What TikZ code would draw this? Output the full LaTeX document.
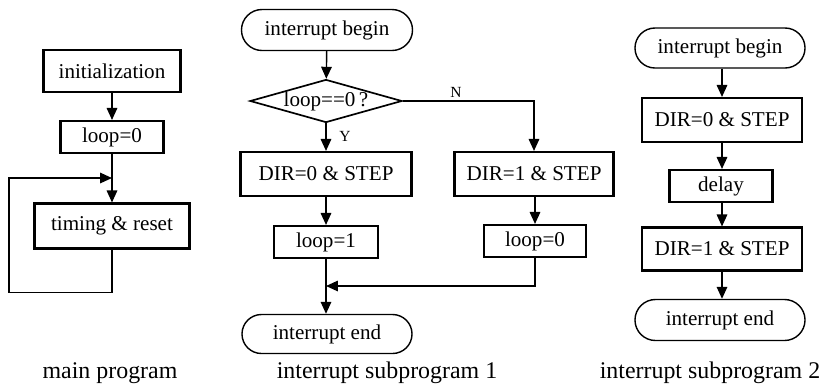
\documentclass[tikz,border=0pt]{standalone}
\usepackage{fontspec}
\setmainfont{Liberation Serif}
\usetikzlibrary{arrows.meta,shapes.geometric,shapes.misc}
\tikzset{
	box/.style={draw, line width=1.5pt, rectangle, inner sep=0pt},
	term/.style={draw, line width=1pt, rounded rectangle, inner sep=0pt},
	decide/.style={draw, line width=1.2pt, diamond, inner sep=0pt},
	arr/.style={line width=1pt, -{Triangle[length=8.5pt,width=7.5pt]}},
	branch/.style={font=\fontsize{11}{13}\selectfont, inner sep=0pt},
	caption/.style={font=\fontsize{17}{20}\selectfont, anchor=base}
}

\begin{document}
\begin{tikzpicture}[x=0.025cm, y=-0.025cm, font=\fontsize{15}{18}\selectfont]
		%%%%% START %%%%%
		\useasboundingbox (0, 0) rectangle (821, 384);
		
		% main program
		\node[box, minimum width=3.425cm, minimum height=1.05cm] (init) at (112, 71) {initialization};
		\node[box, minimum width=2.575cm, minimum height=0.8cm] (loopA) at (112, 137) {loop=0};
		\node[box, minimum width=3.875cm, minimum height=1.125cm] (timing) at (112, 226) {timing \& reset};
		\coordinate (back) at (112, 178);
		
		\draw[arr] (init) -- (loopA);
		\draw[arr] (loopA) -- (timing);
		\draw[arr] (timing.south) -- ++(0, 43) -| (9, 178) -- (back);
		
		\node[caption] (capA) at (110, 378) {main program};
		
		% interrupt subprogram 1
		\node[term, minimum width=4.275cm, minimum height=1.025cm] (beginB) at (327, 30) {interrupt begin};
		\node[decide, minimum width=3.8cm, minimum height=1.075cm] (test) at (326, 101) {\makebox[0pt]{loop==0\,?}};
		\node[box, minimum width=4.275cm, minimum height=1.1cm] (dirB0) at (326, 174) {DIR=0 \& STEP};
		\node[box, minimum width=3.975cm, minimum height=1.1cm] (dirB1) at (534, 174) {DIR=1 \& STEP};
		\node[box, minimum width=2.6cm, minimum height=0.8cm] (loopB1) at (326, 242) {loop=1};
		\node[box, minimum width=2.55cm, minimum height=0.8cm] (loopB0) at (535, 241) {loop=0};
		\node[term, minimum width=4.25cm, minimum height=0.975cm] (endB) at (327, 334) {interrupt end};
		\coordinate (merge) at (326, 286);
		\node[branch] (yes) at (345, 136) {Y};
		\node[branch] (no) at (456, 92) {N};
		
		\draw[arr] (beginB) -- (test);
		\draw[arr] (test.south) -- (dirB0.north);
		\draw[arr] (test.east) -| (dirB1.north);
		\draw[arr] (dirB0) -- (loopB1);
		\draw[arr] (dirB1.south -| loopB0) -- (loopB0);
		\draw[arr] (loopB1) -- (endB.north -| loopB1);
		\draw[arr] (loopB0.south) |- (merge);
		
		\node[caption] (capB) at (387, 378) {interrupt subprogram 1};
		
		% interrupt subprogram 2
		\node[term, minimum width=4.25cm, minimum height=1cm] (beginC) at (720, 48) {interrupt begin};
		\node[box, minimum width=4cm, minimum height=1.1cm] (dirC0) at (722, 120) {DIR=0 \& STEP};
		\node[box, minimum width=2.575cm, minimum height=0.8cm] (delay) at (721, 186) {delay};
		\node[box, minimum width=4cm, minimum height=1.075cm] (dirC1) at (722, 249) {DIR=1 \& STEP};
		\node[term, minimum width=4.25cm, minimum height=1.025cm] (endC) at (720, 320) {interrupt end};
		
		\draw[arr] (beginC.south -| dirC0) -- (dirC0);
		\draw[arr] (dirC0) -- (delay.north -| dirC0);
		\draw[arr] (delay.south -| dirC0) -- (dirC1);
		\draw[arr] (dirC1) -- (endC.north -| dirC1);
		
		\node[caption] (capC) at (710, 378) {interrupt subprogram 2};
		%%%%% END %%%%%
\end{tikzpicture}
\end{document}
